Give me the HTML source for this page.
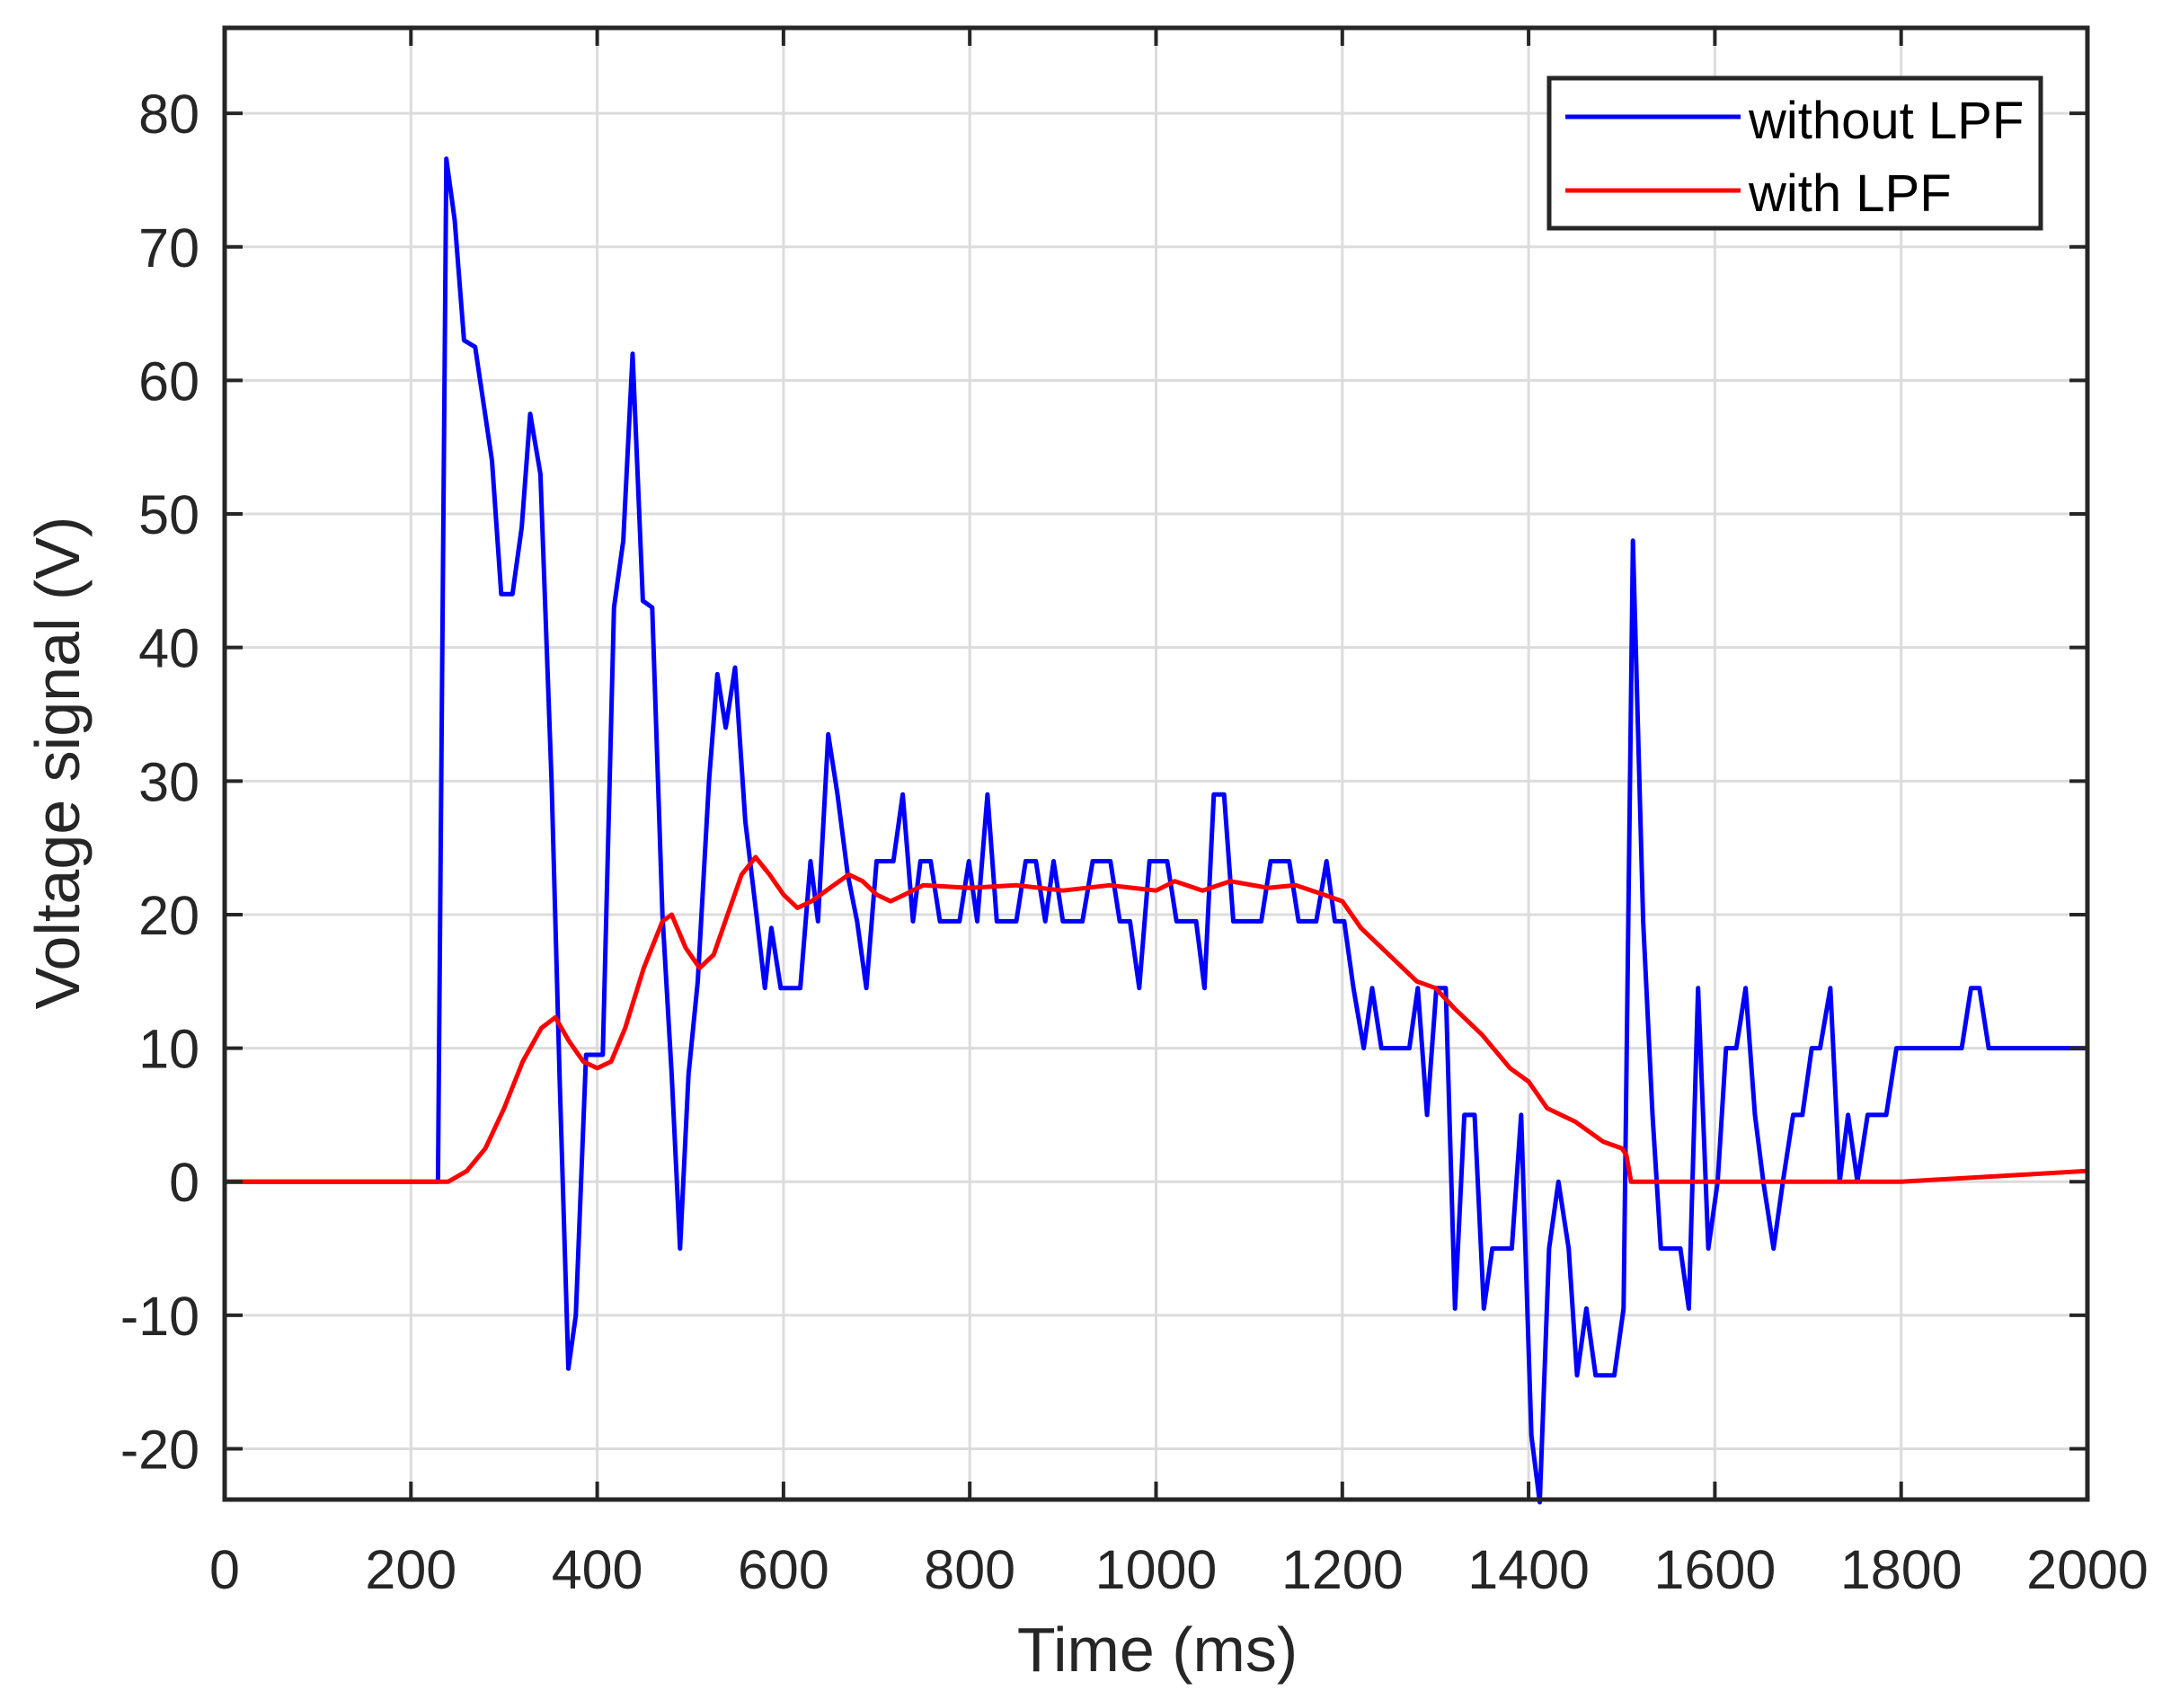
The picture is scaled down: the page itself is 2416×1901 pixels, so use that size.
<!DOCTYPE html>
<html><head><meta charset="utf-8"><style>
html,body{margin:0;padding:0;background:#fff;}
svg{display:block;font-family:"Liberation Sans",Arial,sans-serif;}
</style></head><body>
<svg id="chart" width="2416" height="1901" viewBox="0 0 2416 1901" xmlns="http://www.w3.org/2000/svg">
<g id="grid"></g>
<g id="series"></g>
<g id="axes"></g>
<text x="1288" y="1860" font-size="70" text-anchor="middle" fill="#262626">Time (ms)</text>
<text transform="translate(88,849) rotate(-90)" font-size="70" text-anchor="middle" fill="#262626">Voltage signal (V)</text>
<g>
<rect x="1724" y="87" width="547" height="167" fill="#fff" stroke="#262626" stroke-width="5"/>
<line x1="1742" y1="130" x2="1937" y2="130" stroke="#0000ff" stroke-width="5"/>
<text x="1946" y="154" font-size="58" fill="#000">without LPF</text>
<line x1="1742" y1="212" x2="1937" y2="212" stroke="#ff0000" stroke-width="5"/>
<text x="1946" y="235" font-size="58" fill="#000">with LPF</text>
</g>
</svg>
<script>
const xTicks=[0,200,400,600,800,1000,1200,1400,1600,1800,2000];
const yTicks=[-20,-10,0,10,20,30,40,50,60,70,80];
const blueT=[0,229,238,247,257,269,287,297,309,319,328,339,351,360,369,377,388,406,418,428,438,449,459,470,480,489,498,508,520,529,538,548,559,571,580,587,597,618,629,637,648,658,669,679,689,700,718,728,739,747,758,768,789,799,808,819,829,850,860,871,881,890,900,921,932,951,961,972,982,993,1012,1022,1033,1043,1052,1062,1073,1083,1113,1123,1143,1153,1172,1183,1192,1202,1212,1223,1232,1242,1272,1281,1291,1301,1311,1321,1331,1342,1352,1361,1382,1392,1403,1412,1422,1432,1443,1452,1462,1472,1492,1502,1512,1523,1533,1542,1563,1572,1582,1593,1603,1612,1623,1633,1643,1652,1663,1673,1684,1694,1704,1713,1724,1734,1743,1753,1764,1784,1795,1854,1865,1875,1884,1894,2000];
const blueV=[0,0,76.6,72,63,62.5,54,44,44,49,57.5,53,30,7,-14,-10,9.5,9.5,43,48,62,43.5,43,20,8,-5,8,15,30,38,34,38.5,27,20,14.5,19,14.5,14.5,24,19.5,33.5,29,23,19.5,14.5,24,24,29,19.5,24,24,19.5,19.5,24,19.5,29,19.5,19.5,24,24,19.5,24,19.5,19.5,24,24,19.5,19.5,14.5,24,24,19.5,19.5,19.5,14.5,29,29,19.5,19.5,24,24,19.5,19.5,24,19.5,19.5,14.5,10,14.5,10,10,14.5,5,14.5,14.5,-9.5,5,5,-9.5,-5,-5,5,-19,-24,-5,0,-5,-14.5,-9.5,-14.5,-14.5,-9.5,48,19.5,5,-5,-5,-9.5,14.5,-5,0,10,10,14.5,5,0,-5,0,5,5,10,10,14.5,0,5,0,5,5,10,10,10,14.5,14.5,10,10];
const redT=[0,240,260,280,300,320,340,355,370,385,400,415,430,450,470,480,495,510,525,540,555,570,585,600,615,630,650,670,685,700,715,730,750,800,850,900,950,1000,1020,1050,1080,1120,1150,1180,1200,1220,1250,1280,1300,1320,1350,1380,1400,1420,1450,1480,1500,1505,1510,1800,2000];
const redV=[0,0,0.8,2.5,5.5,9,11.5,12.3,10.5,9,8.5,9,11.5,16,19.5,20,17.5,16,17,20,23,24.3,23,21.5,20.5,21,22,23,22.5,21.5,21,21.5,22.2,22,22.2,21.8,22.2,21.8,22.5,21.8,22.5,22,22.2,21.5,21,19,17,15,14.5,13,11,8.5,7.5,5.5,4.5,3,2.5,2,0,0,0.8];
const L=250,R=2323,T=31,B=1669,yMin=-23.8,yMax=86.4;
const X=t=>L+(t-0)/(2000-0)*(R-L);
const Y=v=>B-(v-yMin)/(yMax-yMin)*(B-T);
const NS='http://www.w3.org/2000/svg';
function mk(tag,attrs,parent){const e=document.createElementNS(NS,tag);for(const k in attrs)e.setAttribute(k,attrs[k]);parent.appendChild(e);return e;}
const grid=document.getElementById('grid'),axes=document.getElementById('axes'),series=document.getElementById('series');
xTicks.forEach(t=>{
  const g=mk('line',{x1:X(t),x2:X(t),y1:T,y2:B,stroke:'#dcdcdc','stroke-width':3},grid);
  
  
  const k1=mk('line',{x1:X(t),x2:X(t),y1:B,y2:B-20,stroke:'#262626','stroke-width':4},axes);
  
  
  const k2=mk('line',{x1:X(t),x2:X(t),y1:T,y2:T+20,stroke:'#262626','stroke-width':4},axes);
  
  
  const tx=mk('text',{x:X(t),y:1768,'font-size':61,'text-anchor':'middle',fill:'#262626'},axes);
  tx.textContent=t;
  
  
});
yTicks.forEach(v=>{
  const g=mk('line',{x1:L,x2:R,y1:Y(v),y2:Y(v),stroke:'#dcdcdc','stroke-width':3},grid);
  
  
  const k1=mk('line',{x1:L,x2:L+20,y1:Y(v),y2:Y(v),stroke:'#262626','stroke-width':4},axes);
  
  
  const k2=mk('line',{x1:R,x2:R-20,y1:Y(v),y2:Y(v),stroke:'#262626','stroke-width':4},axes);
  
  
  const tx=mk('text',{x:222,y:Y(v)+22,'font-size':61,'text-anchor':'end',fill:'#262626'},axes);
  tx.textContent=v;
  
  
});
const frame=mk('rect',{x:L,y:T,width:R-L,height:B-T,fill:'none',stroke:'#262626','stroke-width':5},axes);


function path(ts,vs,color,name){
  const d=ts.map((t,i)=>(i?'L':'M')+X(t).toFixed(1)+' '+Y(vs[i]).toFixed(1)).join(' ');
  const p=mk('path',{d:d,fill:'none',stroke:color,'stroke-width':5,'stroke-linejoin':'round'},series);
  
  
}
path(blueT,blueV,'#0000ff','line-without-lpf');
path(redT,redV,'#ff0000','line-with-lpf');
</script>
</body></html>
